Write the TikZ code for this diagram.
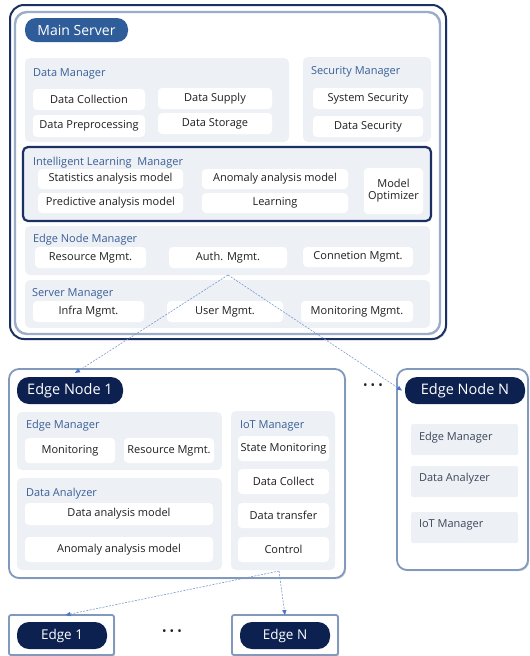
\documentclass[tikz,border=0pt]{standalone}
\usepackage{fontspec}
\setmainfont{Open Sans}
\usetikzlibrary{shadows,arrows.meta}
\definecolor{navy}{HTML}{0C2150}
\definecolor{frameNavy}{HTML}{1B3164}
\definecolor{frameSoft}{HTML}{9AADC9}
\definecolor{midBlue}{HTML}{2F5D9A}
\definecolor{panelFill}{HTML}{EDF1F6}
\definecolor{labelBlue}{HTML}{3A5E96}
\definecolor{labelSlate}{HTML}{3B4658}
\definecolor{edgeLine}{HTML}{8099BD}
\definecolor{linkBlue}{HTML}{7B98CC}
\definecolor{tipBlue}{HTML}{4A78C8}
% a node spanning the corners (x1,y1)-(x2,y2): style, name, x1, y1, x2, y2, text
\newcommand\blk[7]{\node[#1, minimum width={(#5-#3)*1pt}, minimum height={(#6-#4)*1pt}]
  (#2) at ({(#3+#5)/2},{(#4+#6)/2}) {#7};}
\begin{document}
\begin{tikzpicture}[x=1pt,y=-1pt,
  every node/.style={inner sep=0pt, outer sep=0pt},
  panel/.style={fill=panelFill, rounded corners=5pt},
  cell/.style={fill=white, rounded corners=4pt, font=\fontsize{11}{13}\selectfont, text=black!88},
  plabel/.style={anchor=west, yshift=-1.5pt, font=\fontsize{11}{13}\selectfont, text=labelBlue},
  pill/.style={fill=navy, rounded corners=12pt, text=white, font=\fontsize{14.5}{16}\selectfont},
  edgeframe/.style={draw=edgeLine, line width=1.8pt, fill=white, rounded corners=10pt,
    drop shadow={shadow xshift=1.2pt, shadow yshift=-1.2pt, opacity=0.3, fill=black!60}},
  link/.style={draw=linkBlue, line width=0.6pt, dash pattern=on 2pt off 1.3pt,
    -{Triangle[length=5pt,width=4.5pt,fill=tipBlue,line width=0pt]}},
  dots/.style={font=\fontsize{12}{12}\selectfont, text=black!85}
]
\useasboundingbox (0,0) rectangle (530,656);

% ---------------- main server ----------------
\blk{draw=frameNavy, line width=2pt, fill=white, rounded corners=14pt,
  drop shadow={shadow xshift=1.2pt, shadow yshift=-1.2pt, opacity=0.3, fill=black!60}}
  {mainOuter}{10}{5}{446}{339}{}
\blk{draw=frameSoft, line width=2.4pt, rounded corners=12pt}{mainInner}{15}{12}{440}{334}{}
\blk{fill=midBlue, rounded corners=11pt, text=white, font=\fontsize{14}{16}\selectfont}
  {mainTitle}{25}{18}{128}{42}{Main Server}

% data manager
\blk{panel}{dataMgr}{25}{58}{289}{142}{}
\node[plabel] (dataMgrL) at (33,72) {Data Manager};
\blk{cell}{dCollect}{33}{89}{145}{110}{Data Collection}
\blk{cell}{dSupply}{158}{88}{272}{109}{Data Supply}
\blk{cell}{dPre}{33}{115}{145}{137}{Data Preprocessing}
\blk{cell}{dStore}{158}{113}{272}{134}{Data Storage}

% security manager
\blk{panel}{secMgr}{303}{57}{431}{142}{}
\node[plabel] (secMgrL) at (311,70) {Security Manager};
\blk{cell}{sysSec}{313}{88}{423}{109}{System Security}
\blk{cell}{dataSec}{313}{116}{423}{137}{Data Security}

% intelligent learning manager
\blk{panel, draw=frameNavy, line width=2.2pt}{ilm}{23}{147}{431}{221}{}
\node[plabel] (ilmL) at (33,161) {Intelligent Learning\ \ Manager};
\blk{cell}{statModel}{38}{169}{183}{189}{Statistics analysis model}
\blk{cell}{predModel}{38}{193}{183}{213}{Predictive analysis model}
\blk{cell}{anomModel}{202}{169}{348}{189}{Anomaly analysis model}
\blk{cell}{learning}{202}{193}{348}{213}{Learning}
\blk{cell, align=center}{optim}{364}{168}{423}{214}{Model\\[-1pt]Optimizer}

% edge node manager
\blk{panel}{enm}{25}{226}{430}{275}{}
\node[plabel] (enmL) at (33,238) {Edge Node Manager};
\blk{cell}{resMgmt}{35}{247}{146}{268}{Resource Mgmt.}
\blk{cell}{authMgmt}{169}{247}{287}{268}{Auth. Mgmt.}
\blk{cell}{connMgmt}{303}{247}{413}{267}{Connetion Mgmt.}

% server manager
\blk{panel}{srvMgr}{25}{280}{430}{328}{}
\node[plabel] (srvMgrL) at (32,292) {Server Manager};
\blk{cell}{infraMgmt}{33}{301}{144}{322}{Infra Mgmt.}
\blk{cell}{userMgmt}{167}{301}{283}{322}{User Mgmt.}
\blk{cell}{monMgmt}{301}{301}{413}{322}{Monitoring Mgmt.}

% ---------------- edge node 1 ----------------
\blk{edgeframe}{en1}{9}{369}{345}{578}{}
\blk{pill}{en1Title}{17}{377}{123}{404}{Edge Node 1}

\blk{panel}{en1Edge}{17}{412}{222}{470}{}
\node[plabel] (en1EdgeL) at (26,424) {Edge Manager};
\blk{cell}{en1Mon}{25}{438}{115}{463}{Monitoring}
\blk{cell}{en1Res}{124}{438}{214}{463}{Resource Mgmt.}

\blk{panel}{en1Ana}{17}{478}{222}{570}{}
\node[plabel] (en1AnaL) at (26,492) {Data Analyzer};
\blk{cell}{en1DataModel}{25}{503}{213}{525}{Data analysis model}
\blk{cell}{en1AnomModel}{25}{537}{213}{562}{Anomaly analysis model}

\blk{panel}{en1Iot}{231}{411}{335}{570}{}
\node[plabel] (en1IotL) at (240,424) {IoT Manager};
\blk{cell}{stateMon}{238}{436}{329}{461}{State Monitoring}
\blk{cell}{dataCollect}{238}{469}{329}{494}{Data Collect}
\blk{cell}{dataTransfer}{238}{503}{329}{528}{Data transfer}
\blk{cell}{control}{238}{537}{329}{562}{Control}

% ---------------- edge node N ----------------
\blk{edgeframe}{enN}{397}{369}{528}{570}{}
\blk{pill}{enNTitle}{405}{377}{525}{404}{Edge Node N}
\blk{panel, rounded corners=2pt}{enNEdge}{411}{424}{518}{455}{}
\node[plabel, text=labelSlate] (enNEdgeL) at (419,436) {Edge Manager};
\blk{panel, rounded corners=2pt}{enNAna}{411}{466}{518}{497}{}
\node[plabel, text=labelSlate] (enNAnaL) at (419,477) {Data Analyzer};
\blk{panel, rounded corners=2pt}{enNIot}{411}{512}{518}{543}{}
\node[plabel, text=labelSlate] (enNIotL) at (419,523) {IoT Manager};

\node[dots] (dotsNodes) at (373,387) {• • •};

% ---------------- edge devices ----------------
\blk{edgeframe, rounded corners=2pt}{e1}{9}{615}{114}{655}{}
\blk{pill, font=\fontsize{13.5}{15}\selectfont}{e1Title}{17}{622}{107}{649}{Edge 1}
\blk{edgeframe, rounded corners=2pt}{eN}{232}{615}{338}{655}{}
\blk{pill, font=\fontsize{13.5}{15}\selectfont}{eNTitle}{240}{622}{330}{649}{Edge N}
\node[dots] (dotsEdges) at (172,633) {• • •};

% ---------------- links ----------------
\coordinate (hubMain) at (228,275);
\coordinate (hubEdge) at (279,571);
\draw[link] (hubMain) -- ([xshift=5pt,yshift=4pt]en1Title.north);
\draw[link] (hubMain) -- ([xshift=-3pt]enNTitle.west);
\draw[link] (hubEdge) -- ([xshift=4pt]e1.north);
\draw[link] (hubEdge) -- (eN.north);
\end{tikzpicture}
\end{document}
